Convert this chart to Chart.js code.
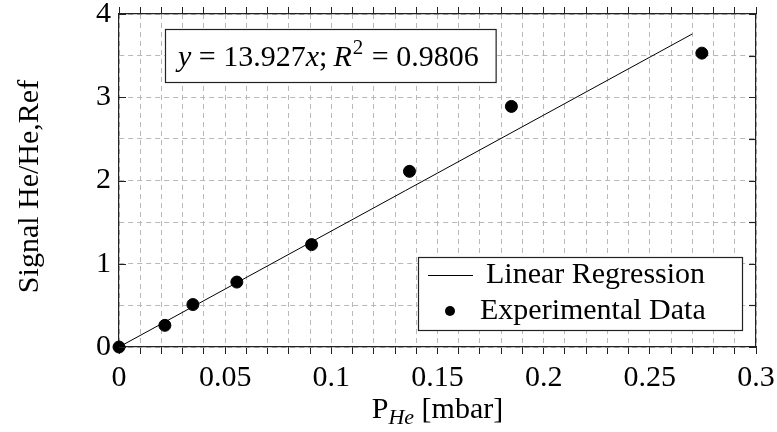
<!DOCTYPE html>
<html>
<head>
<meta charset="utf-8">
<script src="https://cdn.jsdelivr.net/npm/chart.js@4.4.1/dist/chart.umd.min.js"></script>
<style>
  html, body { margin: 0; padding: 0; background: #fff; }
  #wrap { width: 777px; height: 432px; }
</style>
</head>
<body>
<div id="wrap"><canvas id="chart" width="777" height="432"></canvas></div>
<script>
// measured helium pressure and reference-normalised signal
const pressure = [0, 0.0216, 0.0348, 0.0555, 0.0907, 0.1368, 0.1848, 0.2745];
const signal = [0, 0.26, 0.51, 0.78, 1.23, 2.11, 2.89, 3.53];

// fit result
const slope = 13.927;
const rSquared = 0.9806;
const fitRange = [0, 0.27];

const xMajorTicks = [0, 0.05, 0.1, 0.15, 0.2, 0.25, 0.3];
const yMajorTicks = [0, 1, 2, 3, 4];

const FONT = '"Liberation Serif", "DejaVu Serif", serif';
const FS = 30;
const INK = '#222';

const scatterPoints = pressure.map((p, i) => ({ x: p, y: signal[i] }));
const fitPoints = fitRange.map(p => ({ x: p, y: slope * p }));

function isMajor(v, list) {
    return list.some(t => Math.abs(t - v) < 1e-6);
}

// box, inner y ticks, titles, equation and legend
const decorations = {
    id: 'decorations',
    afterDatasetsDraw(chart) {
        const ctx = chart.ctx;
        const a = chart.chartArea;
        const ys = chart.scales.y;
        ctx.save();

        // y ticks point into the plot
        ctx.strokeStyle = INK;
        ctx.lineWidth = 1.2;
        ys.ticks.forEach(t => {
            const py = Math.round(ys.getPixelForValue(t.value)) + 0.5;
            ctx.beginPath();
            if (isMajor(t.value, yMajorTicks)) {
                ctx.moveTo(a.left, py); ctx.lineTo(a.left + 7, py);
            }
            ctx.moveTo(a.right, py); ctx.lineTo(a.right - 7, py);
            ctx.stroke();
        });

        // equation box
        ctx.textBaseline = 'alphabetic';
        const parts = [
            ['y', true], [' = ' + slope.toFixed(3), false], ['x', true], [';\u2009', false], ['R', true]
        ];
        const tail = ' = ' + rSquared.toFixed(4);
        const itFont = 'italic ' + FS + 'px ' + FONT;
        const upFont = FS + 'px ' + FONT;
        const supFont = Math.round(FS * 0.7) + 'px ' + FONT;
        let w = 0;
        parts.forEach(([s, it]) => { ctx.font = it ? itFont : upFont; w += ctx.measureText(s).width; });
        ctx.font = supFont; w += ctx.measureText('2').width + 2;
        ctx.font = upFont; w += ctx.measureText(tail).width;

        const bx = a.left + 46, by = a.top + 15, bh = 53;
        const bw = w + 30;
        ctx.fillStyle = '#fff';
        ctx.fillRect(bx, by, bw, bh);
        ctx.strokeStyle = INK;
        ctx.lineWidth = 1.2;
        ctx.strokeRect(bx + 0.5, by + 0.5, bw, bh);
        ctx.fillStyle = '#000';
        let tx = bx + 13;
        const base = by + 37;
        parts.forEach(([s, it]) => {
            ctx.font = it ? itFont : upFont;
            ctx.fillText(s, tx, base);
            tx += ctx.measureText(s).width;
        });
        ctx.font = supFont;
        ctx.fillText('2', tx + 1, base - 12);
        tx += ctx.measureText('2').width + 2;
        ctx.font = upFont;
        ctx.fillText(tail, tx, base);

        // legend box
        const lw = 324, lh = 73;
        const lx = a.right - 14 - lw, ly = a.bottom - 17 - lh;
        ctx.fillStyle = '#fff';
        ctx.fillRect(lx, ly, lw, lh);
        ctx.strokeStyle = INK;
        ctx.strokeRect(lx + 0.5, ly + 0.5, lw, lh);
        const ds = chart.data.datasets;
        const row1 = ly + 18, row2 = ly + 54;
        ctx.strokeStyle = '#000';
        ctx.lineWidth = 1;
        ctx.beginPath();
        ctx.moveTo(lx + 10, row1 + 0.5); ctx.lineTo(lx + 55, row1 + 0.5);
        ctx.stroke();
        ctx.fillStyle = '#000';
        ctx.beginPath();
        ctx.arc(lx + 32, row2, 5, 0, Math.PI * 2);
        ctx.fill();
        ctx.font = upFont;
        ctx.textBaseline = 'middle';
        ctx.fillText(ds[0].label, lx + 68, row1);
        ctx.fillText(ds[1].label, lx + 62, row2);

        // axis titles
        ctx.textBaseline = 'alphabetic';
        const xt = 418;
        const pW = ctx.measureText('P').width;
        ctx.font = 'italic ' + Math.round(FS * 0.72) + 'px ' + FONT;
        const subW = ctx.measureText('He').width;
        ctx.font = upFont;
        const restW = ctx.measureText(' [mbar]').width;
        let cx = (a.left + a.right) / 2 - (pW + subW + restW) / 2;
        ctx.fillText('P', cx, xt); cx += pW;
        ctx.font = 'italic ' + Math.round(FS * 0.72) + 'px ' + FONT;
        ctx.fillText('He', cx, xt + 6); cx += subW;
        ctx.font = upFont;
        ctx.fillText(' [mbar]', cx, xt);

        ctx.translate(30, (a.top + a.bottom) / 2 + 6);
        ctx.rotate(-Math.PI / 2);
        ctx.textAlign = 'center';
        ctx.textBaseline = 'middle';
        ctx.fillText('Signal He/He,Ref', 0, 0);
        ctx.restore();
    }
};

const gridDash = [5, 4];

new Chart(document.getElementById('chart'), {
    type: 'scatter',
    data: {
        datasets: [
            {
                label: 'Linear Regression',
                data: fitPoints,
                showLine: true,
                borderColor: '#000',
                borderWidth: 1,
                pointRadius: 0,
                order: 1
            },
            {
                label: 'Experimental Data',
                data: scatterPoints,
                backgroundColor: '#000',
                borderColor: '#000',
                pointRadius: 6,
                pointHoverRadius: 6,
                clip: false,
                order: 0
            }
        ]
    },
    options: {
        responsive: false,
        animation: false,
        events: [],
        layout: { autoPadding: false, padding: { left: 0, right: 21, top: 0, bottom: 0 } },
        plugins: { legend: { display: false }, tooltip: { enabled: false } },
        scales: {
            x: {
                type: 'linear',
                position: 'bottom',
                min: 0,
                max: 0.3,
                afterFit: s => { s.height = 85; s.paddingLeft = 0; s.paddingRight = 0; },
                ticks: {
                    stepSize: 0.01,
                    autoSkip: false,
                    maxRotation: 0,
                    padding: 6,
                    color: '#000',
                    font: { family: FONT, size: FS },
                    callback: v => isMajor(v, xMajorTicks) ? String(+v.toFixed(2)) : ''
                },
                grid: {
                    color: '#b8b8b8',
                    lineWidth: 1,
                    tickLength: 7,
                    tickColor: INK,
                    tickBorderDash: [],
                    borderDash: gridDash
                },
                border: { display: true, color: INK, width: 1.2, dash: gridDash }
            },
            x2: {
                type: 'linear',
                position: 'top',
                min: 0,
                max: 0.3,
                afterFit: s => { s.height = 13; s.paddingLeft = 0; s.paddingRight = 0; },
                ticks: { stepSize: 0.01, autoSkip: false, display: false },
                grid: {
                    drawOnChartArea: false,
                    tickLength: 7,
                    tickColor: INK
                },
                border: { display: true, color: INK, width: 1.2 }
            },
            y: {
                type: 'linear',
                position: 'left',
                min: 0,
                max: 4,
                afterFit: s => { s.width = 119; },
                ticks: {
                    stepSize: 0.5,
                    autoSkip: false,
                    padding: 8,
                    color: '#000',
                    font: { family: FONT, size: FS, lineHeight: 0.4 },
                    callback: v => isMajor(v, yMajorTicks) ? String(v) : ''
                },
                grid: {
                    color: '#b8b8b8',
                    lineWidth: 1,
                    drawTicks: false,
                    borderDash: gridDash
                },
                border: { display: true, color: INK, width: 1.2, dash: gridDash }
            },
            y2: {
                type: 'linear',
                position: 'right',
                min: 0,
                max: 4,
                afterFit: s => { s.width = 0; },
                ticks: { display: false },
                grid: { drawOnChartArea: false, drawTicks: false },
                border: { display: true, color: INK, width: 1.2 }
            }
        }
    },
    plugins: [decorations]
});
</script>
</body>
</html>
